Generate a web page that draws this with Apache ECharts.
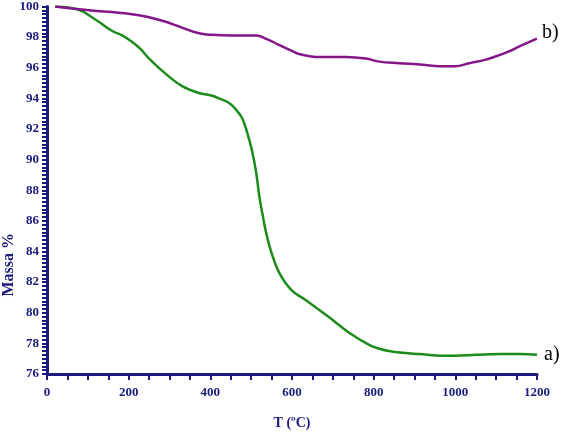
<!DOCTYPE html>
<html>
<head>
<meta charset="utf-8">
<script src="https://cdn.jsdelivr.net/npm/echarts@6/dist/echarts.min.js"></script>
<style>
  html, body { margin: 0; padding: 0; background: #fff; }
  #chart { width: 574px; height: 436px; }
</style>
</head>
<body>
<div id="chart"></div>
<script>
// curve a) (green)
var tempA = [20, 60, 86, 110, 127, 160, 185, 208, 230, 250, 291, 331, 372, 400, 421, 446, 465, 478, 490, 502, 512, 520, 528, 536, 550, 569, 598, 635, 691, 740, 789, 814, 838, 863, 912, 968, 1000, 1050, 1108, 1160, 1200];
var massA = [100, 99.9, 99.7, 99.3, 99.0, 98.4, 98.1, 97.7, 97.2, 96.6, 95.6, 94.8, 94.35, 94.2, 94.0, 93.7, 93.2, 92.7, 91.8, 90.6, 89.2, 87.6, 86.4, 85.3, 83.9, 82.6, 81.5, 80.8, 79.7, 78.7, 77.9, 77.65, 77.5, 77.4, 77.3, 77.2, 77.2, 77.25, 77.3, 77.3, 77.25];
// curve b) (purple)
var tempB = [20, 86, 150, 208, 250, 291, 323, 372, 404, 450, 512, 540, 568, 600, 617, 666, 732, 781, 814, 862, 920, 961, 1000, 1034, 1070, 1100, 1130, 1157, 1200];
var massB = [100, 99.8, 99.65, 99.5, 99.3, 99.0, 98.7, 98.25, 98.15, 98.1, 98.1, 97.85, 97.5, 97.1, 96.9, 96.7, 96.7, 96.6, 96.4, 96.3, 96.2, 96.1, 96.1, 96.3, 96.5, 96.75, 97.05, 97.4, 97.9];

var navy = '#1a1a80';
var font = 'Liberation Serif';

function pairs(xs, ys) {
    var out = [];
    for (var i = 0; i < xs.length; i++) out.push([xs[i], ys[i]]);
    return out;
}

var axisLabelStyle = {
    color: navy,
    fontFamily: font,
    fontWeight: 'bold',
    fontSize: 13,
    formatter: function (v) { return String(v); }
};

option = {
    animation: false,
    grid: { left: 47, right: 37, top: 5, bottom: 62 },
    xAxis: {
        type: 'value',
        min: 0,
        max: 1200,
        interval: 200,
        name: 'T (ºC)',
        nameLocation: 'middle',
        nameGap: 42,
        nameTextStyle: { color: navy, fontFamily: font, fontWeight: 'bold', fontSize: 14 },
        axisLine: { show: true, onZero: false, lineStyle: { color: navy, width: 3 } },
        axisTick: { show: true, length: 6, lineStyle: { color: navy, width: 2 } },
        minorTick: { show: true, splitNumber: 4, length: 6, lineStyle: { color: navy, width: 2 } },
        splitLine: { show: false },
        axisLabel: Object.assign({ margin: 12 }, axisLabelStyle)
    },
    yAxis: {
        type: 'value',
        min: 76,
        max: 100,
        interval: 2,
        axisLine: { show: true, onZero: false, lineStyle: { color: navy, width: 3 } },
        axisTick: { show: true, length: 5, lineStyle: { color: navy, width: 2 } },
        minorTick: { show: true, splitNumber: 8, length: 5, lineStyle: { color: navy, width: 2 } },
        splitLine: { show: false },
        axisLabel: Object.assign({ margin: 8 }, axisLabelStyle)
    },
    graphic: [{
        type: 'text',
        left: 1,
        top: 233,
        rotation: Math.PI / 2,
        style: {
            text: 'Massa %',
            fill: navy,
            font: 'bold 16px "Liberation Serif"'
        }
    }],
    series: [
        {
            name: 'a)',
            type: 'line',
            smooth: 0.4,
            showSymbol: false,
            data: pairs(tempA, massA),
            lineStyle: { color: '#1b8c1b', width: 2.5 },
            endLabel: {
                show: true,
                formatter: 'a)',
                color: '#000',
                fontFamily: font,
                fontSize: 20,
                distance: 7
            }
        },
        {
            name: 'b)',
            type: 'line',
            smooth: 0.4,
            showSymbol: false,
            data: pairs(tempB, massB),
            lineStyle: { color: '#85168a', width: 2.5 },
            endLabel: {
                show: true,
                formatter: 'b)',
                color: '#000',
                fontFamily: font,
                fontSize: 20,
                distance: 5,
                offset: [0, -6]
            }
        }
    ]
};

var myChart = echarts.init(document.getElementById('chart'));
myChart.setOption(option);
</script>
</body>
</html>
